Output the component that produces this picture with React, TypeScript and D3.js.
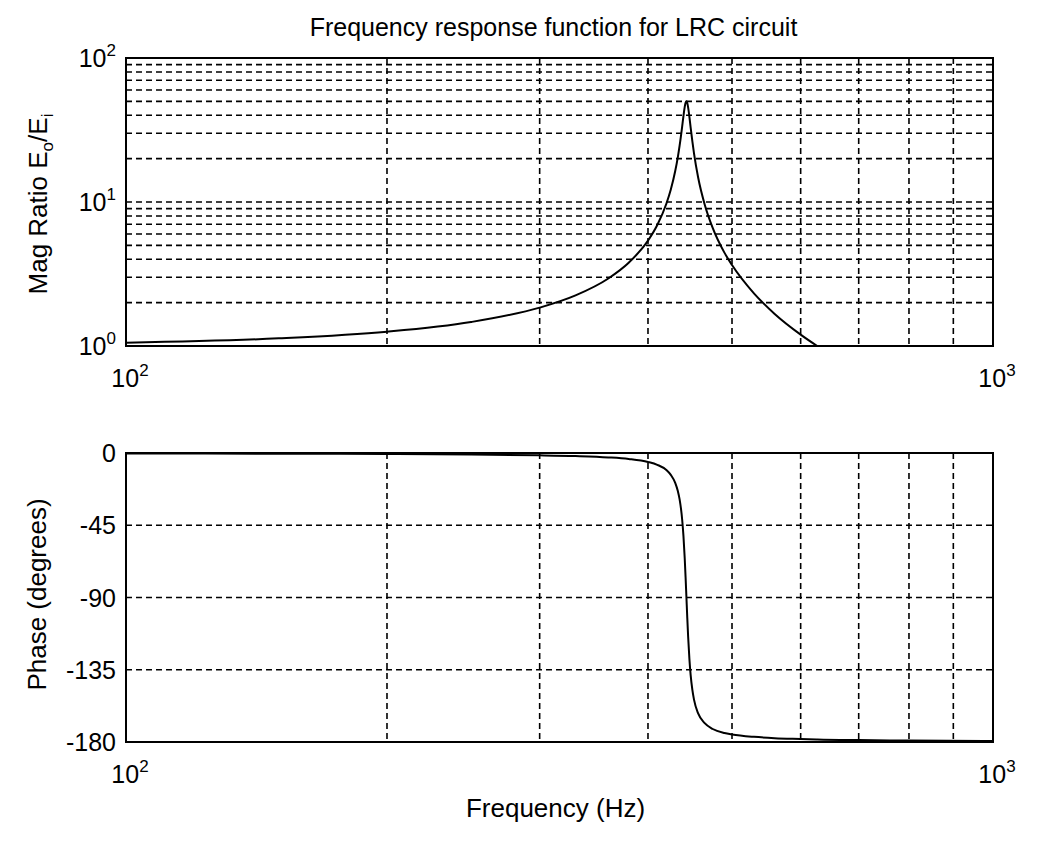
import React from "react";
import * as d3 from "d3";

// Frequency (Hz) sample points
const freqs = [100, 150, 200, 250, 300, 330, 360, 380, 400, 410, 420, 425, 430, 433, 435, 438, 439.5, 441, 442, 443, 444, 445, 446.5, 448, 450, 452, 457, 465, 475, 490, 500, 530, 560, 600, 627, 700, 800, 1000];
// Magnitude ratio Eo/Ei
const magnitude = [1.054, 1.13, 1.256, 1.467, 1.847, 2.247, 2.944, 3.785, 5.39, 6.92, 9.72, 12.2, 16.4, 20.5, 24.5, 33.4, 39.5, 45.8, 48.9, 50.0, 48.7, 45.4, 39.0, 32.9, 26.5, 21.8, 14.8, 9.62, 6.61, 4.45, 3.65, 2.32, 1.67, 1.2, 1.0, 0.668, 0.442, 0.244];
// Phase (degrees)
const phase = [-0.27, -0.44, -0.65, -0.95, -1.43, -1.92, -2.74, -3.72, -5.58, -7.35, -10.6, -13.6, -18.6, -23.7, -28.7, -41.4, -51.6, -65.7, -77.3, -90, -102.7, -114.3, -128.2, -138.3, -147.4, -153.6, -162.2, -168.3, -171.9, -174.4, -175.3, -176.8, -177.6, -178.1, -178.4, -178.8, -179.1, -179.4];

const xGrid = [100, 200, 300, 400, 500, 600, 700, 800, 900, 1000];
const xTickLabels = [{ v: 100, exp: "2" }, { v: 1000, exp: "3" }];
const magGrid = [1, 2, 3, 4, 5, 6, 7, 8, 9, 10, 20, 30, 40, 50, 60, 70, 80, 90, 100];
const magTickLabels = [{ v: 1, exp: "0" }, { v: 10, exp: "1" }, { v: 100, exp: "2" }];
const phaseTicks = [0, -45, -90, -135, -180];

const title = "Frequency response function for LRC circuit";
const xLabel = "Frequency (Hz)";
const phaseLabel = "Phase (degrees)";

const W = 1043;
const H = 850;
const L = 126;
const R = 993;
const top1 = 58, bot1 = 346;
const top2 = 453, bot2 = 742;
const FONT = "'Liberation Sans', Arial, sans-serif";
const FS = 25;
const FL = 26;
const SUP = 17;

export default function App() {
  const x = d3.scaleLog().domain([100, 1000]).range([L, R]);
  const yMag = d3.scaleLog().domain([1, 100]).range([bot1, top1]);
  const yPh = d3.scaleLinear().domain([-180, 0]).range([bot2, top2]);

  const magData = freqs.map((f, i) => [f, magnitude[i]] as [number, number]);
  const phData = freqs.map((f, i) => [f, phase[i]] as [number, number]);

  const magLine = d3.line<[number, number]>()
    .x(d => x(d[0]))
    .y(d => yMag(Math.max(d[1], 0.1)))
    .curve(d3.curveMonotoneX);
  const phLine = d3.line<[number, number]>()
    .x(d => x(d[0]))
    .y(d => yPh(d[1]))
    .curve(d3.curveMonotoneX);

  const gridStyle = { stroke: "#000", strokeWidth: 1.6, strokeDasharray: "6 4", fill: "none" } as const;

  return (
    <svg width={W} height={H} style={{ position: "absolute", left: 0, top: 0, background: "#fff" }} fontFamily={FONT}>
      <rect x={0} y={0} width={W} height={H} fill="#fff" />
      <defs>
        <clipPath id="c1"><rect x={L} y={top1} width={R - L} height={bot1 - top1} /></clipPath>
        <clipPath id="c2"><rect x={L} y={top2 - 2} width={R - L} height={bot2 - top2 + 4} /></clipPath>
      </defs>

      {/* Title */}
      <text x={(L + R) / 2 - 6} y={36} textAnchor="middle" fontSize={FS} fill="#000">{title}</text>

      {/* ===== Top panel ===== */}
      <g>
        {xGrid.slice(1, -1).map(v => (
          <line key={"xg1" + v} x1={x(v)} x2={x(v)} y1={top1} y2={bot1} style={gridStyle} />
        ))}
        {magGrid.slice(1, -1).map(v => (
          <line key={"yg1" + v} x1={L} x2={R} y1={yMag(v)} y2={yMag(v)} style={gridStyle} />
        ))}
        <path d={magLine(magData) || ""} clipPath="url(#c1)" fill="none" stroke="#000" strokeWidth={2} />
        <rect x={L} y={top1} width={R - L} height={bot1 - top1} fill="none" stroke="#000" strokeWidth={2} />
        {magTickLabels.map(t => (
          <text key={"ym" + t.v} x={116} y={yMag(t.v) + 9} textAnchor="end" fontSize={FS} fill="#000">
            10<tspan fontSize={SUP} dy={-11}>{t.exp}</tspan>
          </text>
        ))}
        {xTickLabels.map(t => (
          <text key={"xt1" + t.v} x={x(t.v) + 4} y={bot1 + 41} textAnchor="middle" fontSize={FS} fill="#000">
            10<tspan fontSize={SUP} dy={-11}>{t.exp}</tspan>
          </text>
        ))}
        <text transform={`translate(47,${(top1 + bot1) / 2 + 2}) rotate(-90)`} textAnchor="middle" fontSize={FL} fill="#000">
          Mag Ratio E<tspan fontSize={SUP} dy={6}>o</tspan><tspan dy={-6}>/E</tspan><tspan fontSize={SUP} dy={6}>i</tspan>
        </text>
      </g>

      {/* ===== Bottom panel ===== */}
      <g>
        {xGrid.slice(1, -1).map(v => (
          <line key={"xg2" + v} x1={x(v)} x2={x(v)} y1={top2} y2={bot2} style={gridStyle} />
        ))}
        {phaseTicks.slice(1, -1).map(v => (
          <line key={"yg2" + v} x1={L} x2={R} y1={yPh(v)} y2={yPh(v)} style={gridStyle} />
        ))}
        <path d={phLine(phData) || ""} clipPath="url(#c2)" fill="none" stroke="#000" strokeWidth={2} />
        <rect x={L} y={top2} width={R - L} height={bot2 - top2} fill="none" stroke="#000" strokeWidth={2} />
        {phaseTicks.map(v => (
          <text key={"yp" + v} x={116} y={yPh(v) + 9} textAnchor="end" fontSize={FS} fill="#000">{v}</text>
        ))}
        {xTickLabels.map(t => (
          <text key={"xt2" + t.v} x={x(t.v) + 4} y={bot2 + 41} textAnchor="middle" fontSize={FS} fill="#000">
            10<tspan fontSize={SUP} dy={-11}>{t.exp}</tspan>
          </text>
        ))}
        <text transform={`translate(46,${(top2 + bot2) / 2 - 3}) rotate(-90)`} textAnchor="middle" fontSize={FL} fill="#000">
          {phaseLabel}
        </text>
        <text x={(L + R) / 2 - 4} y={817} textAnchor="middle" fontSize={FL} fill="#000">{xLabel}</text>
      </g>
    </svg>
  );
}
